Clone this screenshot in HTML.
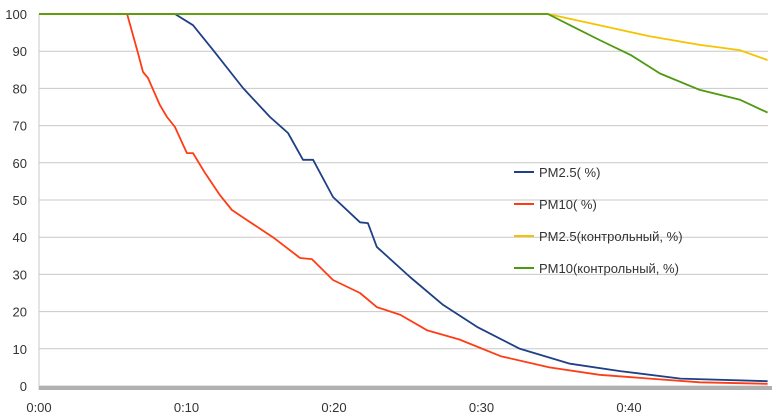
<!DOCTYPE html>
<html><head><meta charset="utf-8"><style>
body{margin:0;background:#fff;}
svg{display:block;font-family:"Liberation Sans",sans-serif;}
</style></head><body>
<svg id="chart" width="780" height="417"></svg>
<script>
const yTicks=[0,10,20,30,40,50,60,70,80,90,100];
const xTickMinutes=[0,10,20,30,40];
const xTickLabels=["0:00","0:10","0:20","0:30","0:40"];
const pm25T=[0,9.22,10.44,11.8,13.83,15.66,16.88,17.9,18.58,19.93,21.76,22.3,22.9,25.15,27.4,29.7,32.6,36,39.4,43.5,49.4];
const pm25V=[100,100,97,90.3,80.1,72.3,68,60.8,60.8,50.8,44,43.8,37.4,29.3,21.8,15.9,10,6,4,2,1.3];
const pm10T=[0,5.97,6.71,7.05,7.39,8.2,8.68,9.22,10.03,10.44,11.25,12.27,13.08,14.1,15.86,17.7,18.5,19.93,21.76,22.9,24.5,26.3,28.5,31.3,34.6,38,41.4,44.8,49.4];
const pm10V=[100,100,89.5,84.4,82.8,75.5,72.3,69.6,62.6,62.6,57.3,51.3,47.3,44.6,40,34.4,34.1,28.5,25,21.2,19.1,15,12.5,8,5,3,2,1,0.6];
const pm25cT=[0,34.5,38,41.4,44.8,47.5,49.4];
const pm25cV=[100,100,97,94,91.7,90.3,87.6];
const pm10cT=[0,34.5,36,38,40.1,42.1,44.8,47.5,49.4];
const pm10cV=[100,100,97,93,89,84,79.6,77,73.5];
const seriesNames=["PM2.5( %)","PM10( %)","PM2.5(контрольный, %)","PM10(контрольный, %)"];
const NS="http://www.w3.org/2000/svg";
const svg=document.getElementById('chart');
const x0=39,x1=768,y0=386,yTop=14;
const X=t=>x0+t*14.75;
const Y=v=>y0-(v/100)*(y0-yTop);
function mk(tag,attrs,parent){const e=document.createElementNS(NS,tag);for(const k in attrs)e.setAttribute(k,attrs[k]);(parent||svg).appendChild(e);return e;}
yTicks.forEach(v=>{
  const l=mk('line',{x1:x0,x2:x1,y1:Y(v),y2:Y(v),stroke:'#c8c8c8','stroke-width':1});
  
  
  const t=mk('text',{x:27,y:Y(v)+5,'text-anchor':'end','font-size':13,fill:'#333'});
  t.textContent=v;
  
  
});
const ax=mk('line',{x1:x0,x2:x0,y1:yTop,y2:y0+4,stroke:'#c8c8c8'});


const floor=mk('rect',{x:x0,y:y0,width:x1-x0+4,height:4,fill:'#b0b0b0'});


xTickMinutes.forEach((m,i)=>{
  const t=mk('text',{x:X(m),y:412,'text-anchor':'middle','font-size':13,fill:'#333'});
  t.textContent=xTickLabels[i];
  
  
});
const series=[[pm25T,pm25V,'#1f3f86'],[pm10T,pm10V,'#ff3c14'],[pm25cT,pm25cV,'#f5c400'],[pm10cT,pm10cV,'#4d9a0f']];
const snames=['pm25-line','pm10-line','pm25-control-line','pm10-control-line'];
series.forEach((s,i)=>{
  const pts=s[0].map((t,j)=>X(t).toFixed(1)+','+Y(s[1][j]).toFixed(1)).join(' ');
  const p=mk('polyline',{points:pts,fill:'none',stroke:s[2],'stroke-width':1.8,'stroke-linejoin':'round'});
  
  
  const ly=172+i*32;
  const g=mk('g',{});
  
  
  mk('line',{x1:514,x2:534,y1:ly,y2:ly,stroke:s[2],'stroke-width':2},g);
  const tx=mk('text',{x:539,y:ly+5,'font-size':13,fill:'#333'},g);
  tx.textContent=seriesNames[i];
});
</script>
</body></html>
